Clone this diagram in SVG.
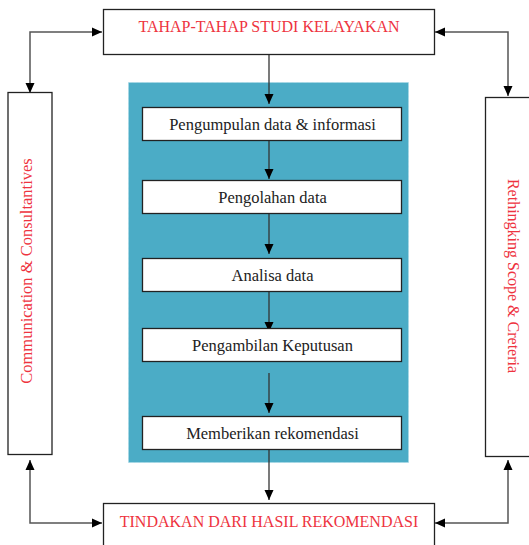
<svg xmlns="http://www.w3.org/2000/svg" width="529" height="545" viewBox="0 0 529 545">
<defs>
<marker id="ah" markerWidth="11" markerHeight="11" refX="10" refY="5.5" orient="auto" markerUnits="userSpaceOnUse">
<path d="M0,1 L10,5.5 L0,10 Z" fill="#000"/>
</marker>
<marker id="ahs" markerWidth="11" markerHeight="11" refX="1" refY="5.5" orient="auto" markerUnits="userSpaceOnUse">
<path d="M11,1 L1,5.5 L11,10 Z" fill="#000"/>
</marker>
<style>
.box{fill:#fff;stroke:#222;stroke-width:1.3}
text{font-family:"Liberation Serif","DejaVu Serif","Times New Roman",serif}
.red{fill:#ee3340;font-size:16px;text-anchor:middle}
.blk{fill:#222;font-size:16.5px;text-anchor:middle}
.ln{fill:none;stroke:#333;stroke-width:1.3;marker-end:url(#ah)}
.ln2{fill:none;stroke:#555;stroke-width:1.5;marker-start:url(#ahs);marker-end:url(#ah)}
</style>
</defs>
<rect x="0" y="0" width="529" height="545" fill="#fff"/>
<g id="panel">
<rect x="128.5" y="82.5" width="280" height="380" fill="#4bacc6" stroke="#a8d8e6" stroke-width="1" stroke-dasharray="3,2"/>
</g>
<g id="connectors">
<path class="ln2" d="M102,32 H30 V93"/>
<path class="ln2" d="M435,32 H508 V96"/>
<path class="ln2" d="M30,460 V523 H102"/>
<path class="ln2" d="M508,460 V523 H435"/>
<path class="ln" d="M269,54 V104"/>
<path class="ln" d="M269,141 V179"/>
<path class="ln" d="M269,214 V254"/>
<path class="ln" d="M269,292 V332"/>
<path class="ln" d="M269,373 V413"/>
<path class="ln" d="M269,450 V500"/>
</g>
<g id="top">
<rect class="box" x="103.5" y="9.5" width="331" height="45"/>
<text class="red" x="269" y="32">TAHAP-TAHAP STUDI KELAYAKAN</text>
</g>
<g id="bottom">
<rect class="box" x="103.5" y="503.5" width="331" height="50"/>
<text class="red" x="269" y="527">TINDAKAN DARI HASIL REKOMENDASI</text>
</g>
<g id="left">
<rect class="box" x="8" y="92.5" width="44" height="362"/>
<text class="red" style="font-size:16.5px" transform="translate(31.5,271) rotate(-90)">Communication &amp; Consultantives</text>
</g>
<g id="right">
<rect class="box" x="485.5" y="97.5" width="50" height="359"/>
<text class="red" transform="translate(508,276) rotate(90)">Rethingking Scope &amp; Creteria</text>
</g>
<g id="s1">
<rect class="box" x="142.5" y="107.5" width="259" height="33"/>
<text class="blk" x="272.5" y="130">Pengumpulan data &amp; informasi</text>
</g>
<g id="s2">
<rect class="box" x="142.5" y="180.5" width="259" height="33"/>
<text class="blk" x="272.5" y="203">Pengolahan data</text>
</g>
<g id="s3">
<rect class="box" x="142.5" y="258.5" width="259" height="33"/>
<text class="blk" x="272.5" y="281">Analisa data</text>
</g>
<g id="s4">
<rect class="box" x="142.5" y="328.5" width="259" height="33"/>
<text class="blk" x="272.5" y="351">Pengambilan Keputusan</text>
</g>
<g id="s5">
<rect class="box" x="142.5" y="416.5" width="259" height="33"/>
<text class="blk" x="272.5" y="439">Memberikan rekomendasi</text>
</g>
</svg>
